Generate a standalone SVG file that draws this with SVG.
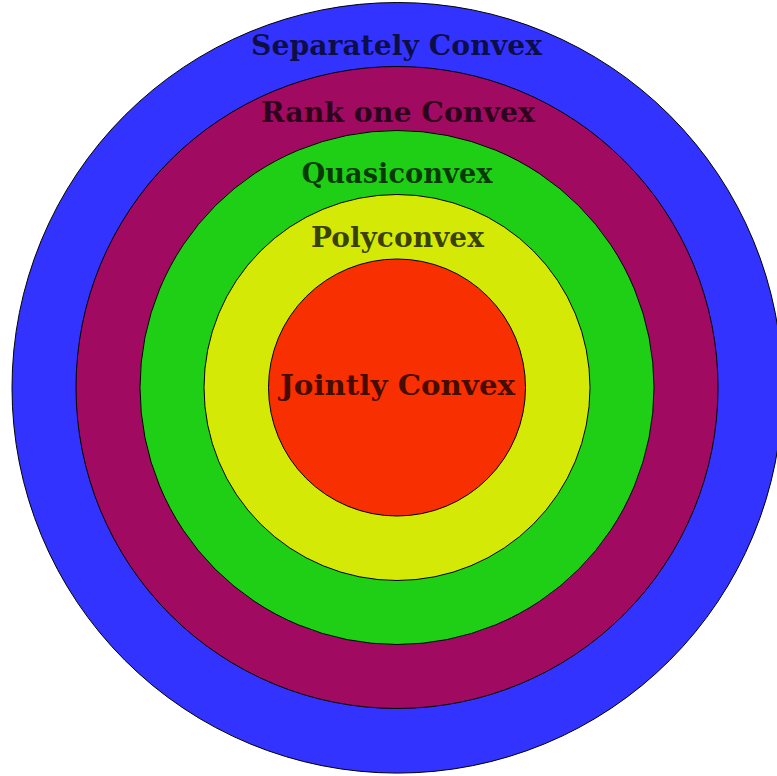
<svg xmlns="http://www.w3.org/2000/svg" width="777" height="776" viewBox="0 0 777 776">
<style>
.ring{stroke:#000;stroke-width:1}
.lbl{font-family:"DejaVu Serif","Liberation Serif",serif;font-weight:bold;font-size:27px;fill:#000;fill-opacity:0.72;text-anchor:middle}
</style>
<rect width="777" height="776" fill="#fff"/>
<g id="separately">
<circle class="ring" cx="397.3" cy="387.8" r="385.3" fill="#3333FF"/>
<text class="lbl" x="396.5" y="54.5" textLength="291" lengthAdjust="spacingAndGlyphs">Separately Convex</text>
</g>
<g id="rankone">
<circle class="ring" cx="397" cy="387.5" r="321" fill="#A00A60"/>
<text class="lbl" x="398" y="121.5" textLength="274" lengthAdjust="spacingAndGlyphs">Rank one Convex</text>
</g>
<g id="quasiconvex">
<circle class="ring" cx="397" cy="387.5" r="257" fill="#1FCF15"/>
<text class="lbl" x="397" y="182.7" textLength="191" lengthAdjust="spacingAndGlyphs">Quasiconvex</text>
</g>
<g id="polyconvex">
<circle class="ring" cx="397" cy="387.5" r="193" fill="#D4EA06"/>
<text class="lbl" x="397.4" y="246.7" textLength="173" lengthAdjust="spacingAndGlyphs">Polyconvex</text>
</g>
<g id="jointly">
<circle class="ring" cx="397" cy="387.5" r="128.5" fill="#F82F00"/>
<text class="lbl" x="397.5" y="395" textLength="235" lengthAdjust="spacingAndGlyphs">Jointly Convex</text>
</g>
<g id="connectors"/>
</svg>
